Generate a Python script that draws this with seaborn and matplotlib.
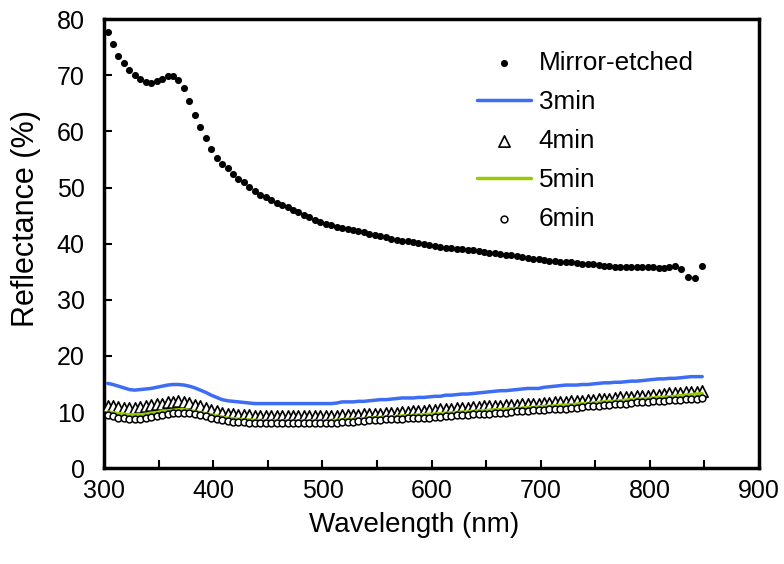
import numpy as np
import pandas as pd
import matplotlib
matplotlib.use("Agg")
import matplotlib.pyplot as plt
import seaborn as sns

# --- data ---
wavelength = [
    303, 308, 313, 318, 323, 328, 333, 338, 343, 348,
    353, 358, 363, 368, 373, 378, 383, 388, 393, 398,
    403, 408, 413, 418, 423, 428, 433, 438, 443, 448,
    453, 458, 463, 468, 473, 478, 483, 488, 493, 498,
    503, 508, 513, 518, 523, 528, 533, 538, 543, 548,
    553, 558, 563, 568, 573, 578, 583, 588, 593, 598,
    603, 608, 613, 618, 623, 628, 633, 638, 643, 648,
    653, 658, 663, 668, 673, 678, 683, 688, 693, 698,
    703, 708, 713, 718, 723, 728, 733, 738, 743, 748,
    753, 758, 763, 768, 773, 778, 783, 788, 793, 798,
    803, 808, 813, 818, 823, 828, 833, 838, 843, 848,
]

mirror_wl = [
    303, 308, 313, 318, 323, 328, 333, 338, 343, 348,
    353, 358, 363, 368, 373, 378, 383, 388, 393, 398,
    403, 408, 413, 418, 423, 428, 433, 438, 443, 448,
    453, 458, 463, 468, 473, 478, 483, 488, 493, 498,
    503, 508, 513, 518, 523, 528, 533, 538, 543, 548,
    553, 558, 563, 568, 573, 578, 583, 588, 593, 598,
    603, 608, 613, 618, 623, 628, 633, 638, 643, 648,
    653, 658, 663, 668, 673, 678, 683, 688, 693, 698,
    703, 708, 713, 718, 723, 728, 733, 738, 743, 748,
    753, 758, 763, 768, 773, 778, 783, 788, 793, 798,
    803, 808, 813, 818, 823, 829, 835, 841, 848,
]

mirror = [
    77.7, 75.5, 73.5, 72.2, 71.0, 70.0, 69.3, 68.8, 68.7, 69.0,
    69.4, 69.8, 69.8, 69.2, 67.8, 65.4, 63.0, 60.8, 58.8, 56.8,
    55.2, 54.2, 53.4, 52.5, 51.6, 50.9, 50.1, 49.4, 48.7, 48.3,
    47.8, 47.2, 46.8, 46.5, 46.0, 45.6, 45.1, 44.7, 44.3, 43.9,
    43.5, 43.3, 43.0, 42.7, 42.6, 42.4, 42.2, 42.0, 41.7, 41.5,
    41.3, 41.1, 40.9, 40.7, 40.5, 40.4, 40.3, 40.1, 40.0, 39.8,
    39.6, 39.4, 39.3, 39.2, 39.1, 39.0, 38.9, 38.8, 38.7, 38.5,
    38.4, 38.3, 38.2, 38.0, 37.9, 37.8, 37.6, 37.5, 37.3, 37.2,
    37.0, 36.9, 36.9, 36.8, 36.7, 36.7, 36.5, 36.4, 36.4, 36.3,
    36.2, 36.1, 36.0, 35.9, 35.9, 35.9, 35.9, 35.9, 35.9, 35.9,
    35.8, 35.6, 35.6, 35.8, 36.0, 35.5, 34.1, 33.8, 36.0,
]

etch_3min = [
    15.1, 14.9, 14.6, 14.3, 14.0, 13.9, 14.0, 14.1, 14.2, 14.4,
    14.6, 14.8, 14.9, 14.9, 14.8, 14.6, 14.3, 13.9, 13.5, 13.0,
    12.6, 12.2, 12.0, 11.9, 11.8, 11.7, 11.6, 11.5, 11.5, 11.5,
    11.5, 11.5, 11.5, 11.5, 11.5, 11.5, 11.5, 11.5, 11.5, 11.5,
    11.5, 11.5, 11.6, 11.8, 11.8, 11.8, 11.9, 11.9, 12.0, 12.1,
    12.2, 12.2, 12.3, 12.4, 12.5, 12.5, 12.5, 12.6, 12.6, 12.7,
    12.8, 12.8, 13.0, 13.0, 13.1, 13.2, 13.2, 13.3, 13.4, 13.5,
    13.6, 13.7, 13.8, 13.8, 13.9, 14.0, 14.1, 14.2, 14.2, 14.2,
    14.4, 14.5, 14.6, 14.7, 14.8, 14.8, 14.8, 14.9, 14.9, 15.0,
    15.1, 15.2, 15.2, 15.3, 15.3, 15.4, 15.5, 15.5, 15.6, 15.7,
    15.8, 15.9, 15.9, 16.0, 16.0, 16.1, 16.2, 16.3, 16.3, 16.3,
]

etch_4min = [
    11.1, 11.0, 10.9, 10.8, 10.8, 10.8, 10.9, 11.0, 11.2, 11.4,
    11.5, 11.7, 11.8, 11.9, 11.8, 11.6, 11.3, 11.0, 10.7, 10.4,
    10.1, 9.9, 9.7, 9.6, 9.5, 9.4, 9.4, 9.3, 9.3, 9.2,
    9.2, 9.2, 9.2, 9.2, 9.2, 9.2, 9.2, 9.2, 9.2, 9.2,
    9.3, 9.3, 9.3, 9.4, 9.4, 9.5, 9.5, 9.6, 9.6, 9.7,
    9.7, 9.8, 9.9, 9.9, 10.0, 10.0, 10.1, 10.2, 10.2, 10.3,
    10.4, 10.5, 10.5, 10.6, 10.7, 10.7, 10.8, 10.9, 10.9, 11.0,
    11.0, 11.1, 11.1, 11.2, 11.2, 11.3, 11.4, 11.4, 11.5, 11.5,
    11.6, 11.6, 11.7, 11.8, 11.8, 11.9, 12.0, 12.0, 12.1, 12.2,
    12.3, 12.4, 12.4, 12.5, 12.6, 12.6, 12.7, 12.8, 12.8, 12.9,
    13.0, 13.1, 13.2, 13.3, 13.3, 13.4, 13.5, 13.5, 13.6, 13.7,
]

etch_5min = [
    10.0, 9.9, 9.7, 9.6, 9.5, 9.5, 9.5, 9.6, 9.8, 9.9,
    10.1, 10.2, 10.3, 10.4, 10.4, 10.3, 10.1, 9.9, 9.7, 9.5,
    9.3, 9.1, 8.9, 8.8, 8.7, 8.6, 8.6, 8.5, 8.5, 8.4,
    8.4, 8.4, 8.4, 8.4, 8.4, 8.4, 8.4, 8.4, 8.4, 8.4,
    8.4, 8.5, 8.5, 8.6, 8.7, 8.7, 8.8, 8.8, 8.9, 9.0,
    9.0, 9.1, 9.1, 9.2, 9.3, 9.3, 9.4, 9.5, 9.5, 9.6,
    9.6, 9.7, 9.8, 9.8, 9.9, 10.0, 10.0, 10.1, 10.2, 10.2,
    10.3, 10.4, 10.4, 10.5, 10.6, 10.6, 10.7, 10.8, 10.8, 10.9,
    11.0, 11.0, 11.1, 11.2, 11.2, 11.3, 11.4, 11.5, 11.5, 11.6,
    11.7, 11.8, 11.9, 11.9, 12.0, 12.1, 12.2, 12.3, 12.3, 12.4,
    12.5, 12.6, 12.6, 12.7, 12.8, 12.9, 13.0, 13.1, 13.2, 13.3,
]

etch_6min = [
    9.4, 9.2, 9.0, 8.9, 8.8, 8.8, 8.8, 8.9, 9.1, 9.3,
    9.5, 9.7, 9.8, 9.9, 9.9, 9.8, 9.6, 9.4, 9.2, 9.0,
    8.8, 8.6, 8.4, 8.3, 8.2, 8.2, 8.1, 8.1, 8.0, 8.0,
    8.0, 8.0, 8.0, 8.0, 8.0, 8.0, 8.0, 8.0, 8.0, 8.0,
    8.0, 8.1, 8.1, 8.2, 8.3, 8.3, 8.4, 8.4, 8.5, 8.6,
    8.6, 8.7, 8.7, 8.8, 8.8, 8.9, 8.9, 9.0, 9.0, 9.0,
    9.1, 9.1, 9.2, 9.3, 9.4, 9.4, 9.5, 9.6, 9.6, 9.7,
    9.7, 9.8, 9.9, 9.9, 10.0, 10.1, 10.2, 10.2, 10.3, 10.4,
    10.4, 10.5, 10.5, 10.6, 10.6, 10.7, 10.8, 10.9, 11.0, 11.1,
    11.1, 11.2, 11.3, 11.4, 11.5, 11.5, 11.6, 11.7, 11.7, 11.8,
    11.9, 11.9, 12.0, 12.1, 12.1, 12.2, 12.3, 12.3, 12.4, 12.5,
]

x_ticks = [300, 400, 500, 600, 700, 800, 900]
x_minor = [350, 450, 550, 650, 750, 850]
y_ticks = [0, 10, 20, 30, 40, 50, 60, 70, 80]

# --- style ---
sns.set_style("white")
plt.rcParams["font.family"] = ["Liberation Sans", "DejaVu Sans"]
plt.rcParams["text.color"] = "black"
plt.rcParams["axes.labelcolor"] = "black"
plt.rcParams["xtick.color"] = "black"
plt.rcParams["ytick.color"] = "black"

fig, ax = plt.subplots(figsize=(7.84, 5.64), dpi=100)
fig.subplots_adjust(left=0.133, right=0.968, top=0.966, bottom=0.170)

# mirror-etched: black dots
sns.scatterplot(x=mirror_wl, y=mirror, ax=ax, color="black", marker="o",
                s=26, linewidth=0, label="Mirror-etched", zorder=3)
# 3 min: blue line
sns.lineplot(x=wavelength, y=etch_3min, ax=ax, color="#3d6cf5",
             linewidth=2.5, label="3min", zorder=3)
# 4 min: open triangles
sns.scatterplot(x=wavelength, y=etch_4min, ax=ax, marker="^", s=66,
                facecolor="white", edgecolor="black", linewidth=1.2,
                label="4min", zorder=3)
# 5 min: yellow-green line
sns.lineplot(x=wavelength, y=etch_5min, ax=ax, color="#99cc00",
             linewidth=2.5, label="5min", zorder=3)
# 6 min: open circles
sns.scatterplot(x=wavelength, y=etch_6min, ax=ax, marker="o", s=24,
                facecolor="white", edgecolor="black", linewidth=1.1,
                label="6min", zorder=3)

ax.set_xlim(300, 900)
ax.set_ylim(0, 80)
ax.set_xticks(x_ticks)
ax.set_xticks(x_minor, minor=True)
ax.set_yticks(y_ticks)

ax.tick_params(axis="both", which="both", direction="in", length=6,
               width=1.5, color="black", labelsize=18,
               bottom=True, left=True, top=False, right=False)
ax.tick_params(axis="y", which="major", pad=14)
ax.tick_params(axis="x", which="major", pad=8)

for sp in ax.spines.values():
    sp.set_visible(True)
    sp.set_color("black")
    sp.set_linewidth(2.5)

ax.set_xlabel("Wavelength (nm)", fontsize=20)
ax.set_ylabel("Reflectance (%)", fontsize=22)
ax.xaxis.set_label_coords(0.473, -0.097)
ax.yaxis.set_label_coords(-0.096, 0.555)

leg = ax.legend(loc="upper left", bbox_to_anchor=(0.570, 0.93), frameon=False,
                fontsize=18.8, handlelength=2.05, handletextpad=0.3,
                labelspacing=0.58, borderpad=0, borderaxespad=0)

fig.savefig("out.png", dpi=100)
